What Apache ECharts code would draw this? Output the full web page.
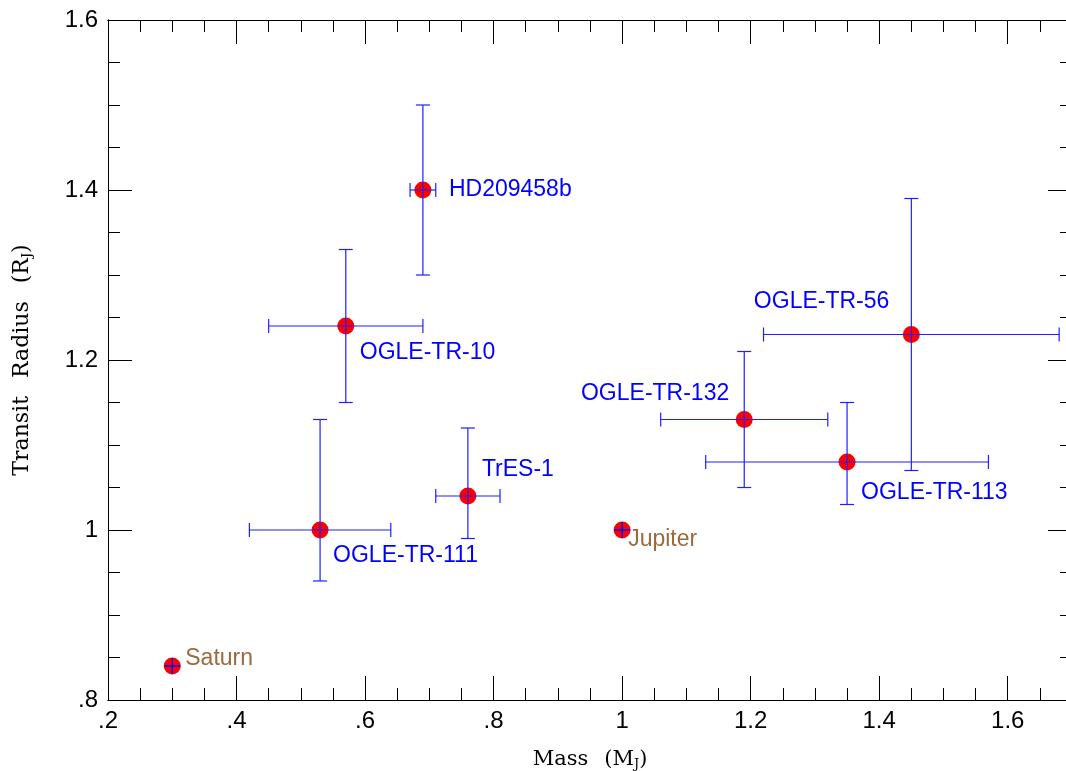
<!DOCTYPE html>
<html>
<head>
<meta charset="utf-8">
<script src="https://cdn.jsdelivr.net/npm/echarts@6/dist/echarts.min.js"></script>
<style>
html,body{margin:0;padding:0;background:#fff;overflow:hidden;}
#c{width:1066px;height:771px;}
</style>
</head>
<body>
<div id="c"></div>
<script>
// ---- data ----
const names    = ['HD209458b','OGLE-TR-10','OGLE-TR-111','TrES-1','Jupiter','Saturn','OGLE-TR-132','OGLE-TR-113','OGLE-TR-56'];
const mass     = [0.69, 0.57, 0.53, 0.76, 1.00, 0.30, 1.19, 1.35, 1.45];
const radius   = [1.40, 1.24, 1.00, 1.04, 1.00, 0.84, 1.13, 1.08, 1.23];
const massLow  = [0.67, 0.45, 0.42, 0.71, null, null, 1.06, 1.13, 1.22];
const massHigh = [0.71, 0.69, 0.64, 0.81, null, null, 1.32, 1.57, 1.68];
const radLow   = [1.30, 1.15, 0.94, 0.99, null, null, 1.05, 1.03, 1.07];
const radHigh  = [1.50, 1.33, 1.13, 1.12, null, null, 1.21, 1.15, 1.39];
const kind     = ['exo','exo','exo','exo','solar','solar','exo','exo','exo'];
const xTickLabels = ['.2','.4','.6','.8','1','1.2','1.4','1.6'];
const yTickLabels = ['.8','1','1.2','1.4','1.6'];

// ---- styling (label placement relative to point, in px) ----
const labelPlace = {
  'HD209458b':  {dx: 26, dy: 0,   align: 'left'},
  'OGLE-TR-10': {dx: 14, dy: 27,  align: 'left'},
  'OGLE-TR-111':{dx: 13, dy: 26,  align: 'left'},
  'TrES-1':     {dx: 14, dy: -26, align: 'left'},
  'Jupiter':    {dx: 6,  dy: 10,  align: 'left'},
  'Saturn':     {dx: 13, dy: -7,  align: 'left'},
  'OGLE-TR-132':{dx: -15, dy: -26, align: 'right'},
  'OGLE-TR-113':{dx: 14, dy: 31,  align: 'left'},
  'OGLE-TR-56': {dx: -22, dy: -33, align: 'right'}
};
const colors = {exo: '#0000ff', solar: '#9c6a3c'};
const lineBlue = '#1f1fff';

const chart = echarts.init(document.getElementById('c'), null, {renderer: 'canvas'});

const data = names.map((n, i) => ({name: n, value: [mass[i], radius[i]]}));

function mkX(pos, interval, len, labels) {
  return {
    type: 'value', position: pos, min: 0.2, max: 1.7, interval: interval,
    axisLine: {show: true, onZero: false, lineStyle: {color: '#000', width: 1}},
    axisTick: {show: true, inside: true, length: len, lineStyle: {color: '#000', width: 1}},
    axisLabel: labels ? {
      show: true, margin: 9, color: '#000', fontSize: 24, fontFamily: 'Liberation Sans',
      showMinLabel: true, showMaxLabel: true,
      formatter: (v, idx) => (xTickLabels[idx] !== undefined ? xTickLabels[idx] : '')
    } : {show: false},
    splitLine: {show: false}
  };
}
function mkY(pos, interval, len, labels) {
  return {
    type: 'value', position: pos, min: 0.8, max: 1.6, interval: interval,
    axisLine: {show: true, onZero: false, lineStyle: {color: '#000', width: 1}},
    axisTick: {show: true, inside: true, length: len, lineStyle: {color: '#000', width: 1}},
    axisLabel: labels ? {
      show: true, margin: 10, color: '#000', fontSize: 24, fontFamily: 'Liberation Sans',
      showMinLabel: true, showMaxLabel: true,
      formatter: (v, idx) => (yTickLabels[idx] !== undefined ? yTickLabels[idx] : '')
    } : {show: false},
    splitLine: {show: false}
  };
}

const xAxes = [mkX('bottom', 0.2, 24, true), mkX('bottom', 0.05, 12, false), mkX('top', 0.2, 24, false), mkX('top', 0.05, 12, false)];
const yAxes = [mkY('left', 0.2, 24, true), mkY('left', 0.05, 12, false), mkY('right', 0.2, 24, false), mkY('right', 0.05, 12, false)];

const xTitleRich = {
  a: {fontFamily: 'DejaVu Serif', fontSize: 21, color: '#000'},
  g: {fontFamily: 'DejaVu Serif', fontSize: 21, width: 16},
  s: {fontFamily: 'DejaVu Serif', fontSize: 13, color: '#000', verticalAlign: 'bottom', padding: [10, 0, 0, 0]}
};
const yTitleRich = {
  a: {fontFamily: 'DejaVu Serif', fontSize: 22, color: '#000'},
  g: {fontFamily: 'DejaVu Serif', fontSize: 22, width: 18},
  s: {fontFamily: 'DejaVu Serif', fontSize: 13, color: '#000', verticalAlign: 'bottom', padding: [10, 0, 0, 0]}
};
xAxes[0].name = '{a|Mass}{g|}{a|(M}{s|J}{a|)}';
xAxes[0].nameLocation = 'middle';
xAxes[0].nameGap = 48;
xAxes[0].nameTextStyle = {rich: xTitleRich};
yAxes[0].name = '{a|Transit}{g|}{a|Radius}{g|}{a|(R}{s|J}{a|)}';
yAxes[0].nameLocation = 'middle';
yAxes[0].nameGap = 74;
yAxes[0].nameTextStyle = {rich: yTitleRich};

function renderItem(params, api) {
  const i = params.dataIndex;
  const p = api.coord([mass[i], radius[i]]);
  const children = [];
  children.push({type: 'circle', shape: {cx: p[0], cy: p[1], r: 8.5}, style: {fill: '#ff0000'}});
  const ls = {stroke: lineBlue, lineWidth: 1.2};
  const cap = 7;
  if (massLow[i] !== null) {
    const a = api.coord([massLow[i], radius[i]]);
    const b = api.coord([massHigh[i], radius[i]]);
    children.push({type: 'line', shape: {x1: a[0], y1: a[1], x2: b[0], y2: b[1]}, style: ls});
    children.push({type: 'line', shape: {x1: a[0], y1: a[1] - cap, x2: a[0], y2: a[1] + cap}, style: ls});
    children.push({type: 'line', shape: {x1: b[0], y1: b[1] - cap, x2: b[0], y2: b[1] + cap}, style: ls});
    const c = api.coord([mass[i], radLow[i]]);
    const d = api.coord([mass[i], radHigh[i]]);
    children.push({type: 'line', shape: {x1: c[0], y1: c[1], x2: d[0], y2: d[1]}, style: ls});
    children.push({type: 'line', shape: {x1: c[0] - cap, y1: c[1], x2: c[0] + cap, y2: c[1]}, style: ls});
    children.push({type: 'line', shape: {x1: d[0] - cap, y1: d[1], x2: d[0] + cap, y2: d[1]}, style: ls});
  } else {
    children.push({type: 'line', shape: {x1: p[0] - 8, y1: p[1], x2: p[0] + 8, y2: p[1]}, style: {stroke: '#0000ff', lineWidth: 1.5}});
    children.push({type: 'line', shape: {x1: p[0], y1: p[1] - 8, x2: p[0], y2: p[1] + 8}, style: {stroke: '#0000ff', lineWidth: 1.5}});
  }
  const lp = labelPlace[names[i]];
  children.push({
    type: 'text',
    style: {
      text: names[i], x: p[0] + lp.dx, y: p[1] + lp.dy,
      fill: colors[kind[i]], fontSize: 23, fontFamily: 'Liberation Sans',
      align: lp.align, verticalAlign: 'middle'
    }
  });
  return {type: 'group', children: children};
}

chart.setOption({
  animation: false,
  backgroundColor: '#fff',
  grid: {left: 108, top: 20, right: -6, bottom: 71, containLabel: false, outerBoundsMode: 'none'},
  xAxis: xAxes,
  yAxis: yAxes,
  series: [{
    type: 'custom',
    xAxisIndex: 0, yAxisIndex: 0,
    renderItem: renderItem,
    clip: false,
    data: data
  }]
});
</script>
</body>
</html>
